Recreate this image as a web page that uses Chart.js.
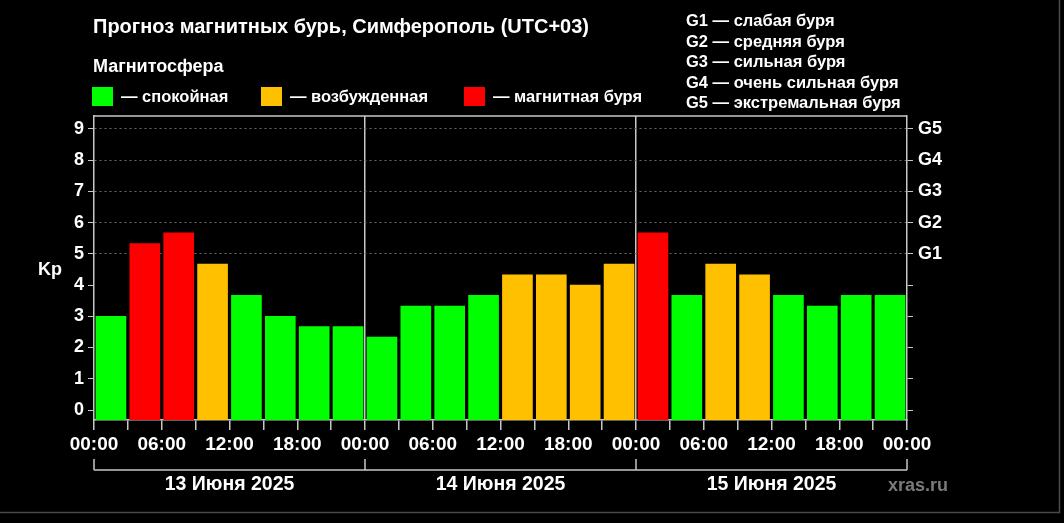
<!DOCTYPE html>
<html lang="ru">
<head>
<meta charset="utf-8">
<title>Прогноз магнитных бурь, Симферополь</title>
<script src="https://cdn.jsdelivr.net/npm/chart.js@4.4.0/dist/chart.umd.min.js"></script>
<style>
  html, body { margin: 0; padding: 0; background: #000; }
  #wrap { position: relative; width: 1064px; height: 523px; }
</style>
</head>
<body>
<div id="wrap"><canvas id="kpChart"></canvas></div>
<script>
// 3-hour intervals over three days (hours since 13 June 00:00)
const hourStarts = [0, 3, 6, 9, 12, 15, 18, 21, 24, 27, 30, 33, 36, 39, 42, 45, 48, 51, 54, 57, 60, 63, 66, 69];
const hourTicks = [0, 3, 6, 9, 12, 15, 18, 21, 24, 27, 30, 33, 36, 39, 42, 45, 48, 51, 54, 57, 60, 63, 66, 69, 72];
const kpValues = [
    3.0, 5.33, 5.67, 4.67, 3.67, 3.0, 2.67, 2.67,
    2.33, 3.33, 3.33, 3.67, 4.33, 4.33, 4.0, 4.67,
    5.67, 3.67, 4.67, 4.33, 3.67, 3.33, 3.67, 3.67
];
const kpTicks = [0, 1, 2, 3, 4, 5, 6, 7, 8, 9];
const gLevels = [5, 6, 7, 8, 9];
const gLabels = ['G1', 'G2', 'G3', 'G4', 'G5'];
const gDescriptions = [
    'G1 — слабая буря',
    'G2 — средняя буря',
    'G3 — сильная буря',
    'G4 — очень сильная буря',
    'G5 — экстремальная буря'
];
const dayStarts = [0, 24, 48];
const dayLabels = ['13 Июня 2025', '14 Июня 2025', '15 Июня 2025'];
const stateLabels = ['— спокойная', '— возбужденная', '— магнитная буря'];

const FONT = "'Liberation Sans', Arial, sans-serif";
const LINE = '#c8c8c8';
const colors = { calm: '#00ff00', active: '#ffc000', storm: '#ff0000' };
const Y_MIN = -0.32;
const Y_MAX = 9.41;

function barColor(v) {
    if (v >= 5) return colors.storm;
    if (v >= 4) return colors.active;
    return colors.calm;
}

function hhmm(v) {
    const h = v % 24;
    return (h < 10 ? '0' : '') + h + ':00';
}

// all the text and frame bits around the plot
const decorations = {
    id: 'decorations',
    afterDraw(chart) {
        const { ctx, chartArea, scales } = chart;
        ctx.save();

        // top edge of plot frame
        ctx.strokeStyle = LINE;
        ctx.lineWidth = 1.5;
        ctx.beginPath();
        ctx.moveTo(chartArea.left, chartArea.top);
        ctx.lineTo(chartArea.right, chartArea.top);
        ctx.stroke();

        ctx.fillStyle = '#fff';
        ctx.textBaseline = 'alphabetic';
        ctx.textAlign = 'left';
        ctx.font = 'bold 20px ' + FONT;
        ctx.fillText('Прогноз магнитных бурь, Симферополь (UTC+03)', 93, 33);

        ctx.font = 'bold 18px ' + FONT;
        ctx.fillText('Магнитосфера', 93, 72);

        // state legend
        const swatches = [colors.calm, colors.active, colors.storm];
        const swatchX = [92, 261, 464];
        ctx.font = 'bold 16.5px ' + FONT;
        swatches.forEach((c, i) => {
            ctx.fillStyle = c;
            ctx.fillRect(swatchX[i], 87, 21, 19);
            ctx.fillStyle = '#fff';
            ctx.fillText(stateLabels[i], swatchX[i] + 29, 102);
        });

        // G scale legend
        ctx.font = 'bold 16.5px ' + FONT;
        gDescriptions.forEach((t, i) => {
            ctx.fillText(t, 686, 26 + i * 20.5);
        });

        ctx.font = 'bold 18px ' + FONT;
        ctx.fillText('Kp', 38, 275);

        // day brackets under the time axis
        const xs = scales.x;
        const ends = dayStarts.concat([72]).map(v => xs.getPixelForValue(v));
        ctx.strokeStyle = LINE;
        ctx.lineWidth = 1.5;
        ctx.beginPath();
        ends.forEach(px => {
            ctx.moveTo(px, 459);
            ctx.lineTo(px, 470);
        });
        ctx.moveTo(ends[0], 470);
        ctx.lineTo(ends[ends.length - 1], 470);
        ctx.stroke();

        ctx.font = 'bold 19.5px ' + FONT;
        ctx.textAlign = 'center';
        dayLabels.forEach((t, i) => {
            ctx.fillText(t, (ends[i] + ends[i + 1]) / 2, 490);
        });

        ctx.textAlign = 'left';
        ctx.fillStyle = '#7a7a7a';
        ctx.font = 'bold 18px ' + FONT;
        ctx.fillText('xras.ru', 888, 491);

        // outer frame (right and bottom)
        ctx.strokeStyle = '#4a4a4a';
        ctx.lineWidth = 1.5;
        ctx.beginPath();
        ctx.moveTo(1059.5, 0);
        ctx.lineTo(1059.5, 512.5);
        ctx.lineTo(0, 512.5);
        ctx.stroke();

        ctx.restore();
    }
};

const ctx = document.getElementById('kpChart').getContext('2d');
new Chart(ctx, {
    type: 'bar',
    data: {
        datasets: [{
            data: hourStarts.map((h, i) => ({ x: h + 1.5, y: kpValues[i] })),
            backgroundColor: kpValues.map(barColor),
            base: Y_MIN,
            barThickness: 30,
            borderWidth: 0
        }]
    },
    options: {
        responsive: true,
        maintainAspectRatio: false,
        animation: false,
        layout: { padding: { top: 116, left: 0, right: 0, bottom: 0 } },
        plugins: {
            legend: { display: false },
            tooltip: { enabled: false }
        },
        scales: {
            x: {
                type: 'linear',
                min: 0,
                max: 72,
                offset: false,
                afterBuildTicks: s => { s.ticks = hourTicks.map(v => ({ value: v })); },
                afterFit: s => { s.height = 103; },
                ticks: {
                    autoSkip: false,
                    maxRotation: 0,
                    color: '#fff',
                    padding: 3,
                    font: { family: FONT, size: 19, weight: 'bold' },
                    callback: v => (v % 6 === 0 ? hhmm(v) : '')
                },
                grid: {
                    offset: false,
                    color: c => (c.tick && c.tick.value % 24 === 0 && c.tick.value > 0 && c.tick.value < 72) ? LINE : 'rgba(0,0,0,0)',
                    lineWidth: 1.5,
                    tickColor: LINE,
                    tickLength: 10
                },
                border: { color: LINE, width: 1.5 }
            },
            y: {
                position: 'left',
                min: Y_MIN,
                max: Y_MAX,
                afterBuildTicks: s => { s.ticks = kpTicks.map(v => ({ value: v })); },
                afterFit: s => { s.width = 94; },
                ticks: {
                    color: '#fff',
                    padding: 4,
                    font: { family: FONT, size: 18, weight: 'bold' }
                },
                grid: {
                    color: c => (c.tick && c.tick.value >= 5) ? '#6a6a6a' : 'rgba(0,0,0,0)',
                    lineWidth: 1,
                    tickColor: LINE,
                    tickLength: 6,
                    tickBorderDash: []
                },
                border: { color: LINE, width: 1.5, dash: [2, 3] }
            },
            y2: {
                position: 'right',
                min: Y_MIN,
                max: Y_MAX,
                afterBuildTicks: s => { s.ticks = kpTicks.map(v => ({ value: v })); },
                afterFit: s => { s.width = 157; },
                ticks: {
                    color: '#fff',
                    padding: 5,
                    font: { family: FONT, size: 18, weight: 'bold' },
                    callback: v => { const i = gLevels.indexOf(v); return i >= 0 ? gLabels[i] : ''; }
                },
                grid: {
                    drawOnChartArea: false,
                    tickColor: LINE,
                    tickLength: 6
                },
                border: { color: LINE, width: 1.5 }
            }
        }
    },
    plugins: [decorations]
});
</script>
</body>
</html>
